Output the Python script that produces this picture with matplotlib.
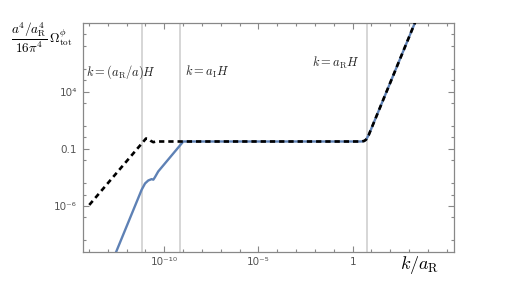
import numpy as np
import matplotlib
matplotlib.use("Agg")
import matplotlib.pyplot as plt

plt.rcParams['mathtext.fontset'] = 'cm'

# --- data (log10 of k/a_R and of the spectrum) ---
blue_logk = [-12.6, -11.2, -11.02, -10.85, -10.67, -10.58, -10.49, -10.32, -8.99,
             0.45, 0.6, 0.71, 0.85, 1.0, 1.62, 3.45]
blue_logy = [-10.2, -4.58, -4.03, -3.77, -3.65, -3.70, -3.47, -2.98, -0.36,
             -0.36, -0.32, -0.2, 0.2, 0.8, 3.28, 10.6]

black_logk = [-13.98, -10.97, -10.85, -10.72, -10.58, -10.45, 0.45, 0.6, 0.71,
              0.85, 1.0, 1.62, 3.45]
black_logy = [-5.91, -0.10, -0.12, -0.30, -0.42, -0.36, -0.36, -0.32, -0.2,
              0.2, 0.8, 3.28, 10.6]

vlines_logk = [-11.17, -9.17, 0.78]
vline_labels = [r'$k=(a_{\rm R}/a)H$', r'$k=a_{\rm I}H$', r'$k=a_{\rm R}H$']
vline_label_x = [0.010, 0.276, 0.618]
vline_label_y = [0.785, 0.785, 0.825]

xmajor = [-10, -5, 0]
xmajor_labels = ['10⁻¹⁰', '10⁻⁵', '1']
ymajor = [-6, -1, 4]
ymajor_labels = ['10⁻⁶', '0.1', '10⁴']
yminor = [-9, -7, -5, -4, -2, 0, 1, 3, 5, 6, 8, 9]

fig = plt.figure(figsize=(5.12, 2.88), dpi=100)
ax = fig.add_axes([0.1615, 0.126, 0.7245, 0.794])

for v in vlines_logk:
    ax.axvline(10.0**v, color='#cccccc', lw=1.1, zorder=1)

ax.plot(10.0**np.array(blue_logk), 10.0**np.array(blue_logy),
        color='#5e81b5', lw=1.7, zorder=2, solid_capstyle='butt')
ax.plot(10.0**np.array(black_logk), 10.0**np.array(black_logy),
        color='black', lw=1.9, ls=(0, (2.0, 1.5)), zorder=3)

ax.set_xscale('log')
ax.set_yscale('log')
ax.set_xlim(10**-14.33, 10**5.36)
ax.set_ylim(1e-10, 1e10)

ax.set_xticks([10.0**v for v in xmajor])
ax.set_xticklabels(xmajor_labels)
ax.set_xticks([10.0**v for v in range(-14, 6) if v not in xmajor], minor=True)
ax.set_yticks([10.0**v for v in ymajor])
ax.set_yticklabels(ymajor_labels)
ax.set_yticks([10.0**v for v in yminor], minor=True)
ax.xaxis.set_minor_formatter(matplotlib.ticker.NullFormatter())
ax.yaxis.set_minor_formatter(matplotlib.ticker.NullFormatter())

ax.tick_params(which='both', direction='in', top=True, right=True,
               color='#888888', width=0.8, labelsize=7.5, labelcolor='#555555')
ax.tick_params(which='major', length=4, pad=4)
ax.tick_params(which='minor', length=2.5)
for s in ax.spines.values():
    s.set_color('#888888')
    s.set_linewidth(0.9)

for lab, xp, yp in zip(vline_labels, vline_label_x, vline_label_y):
    ax.text(xp, yp, lab, transform=ax.transAxes, fontsize=9,
            ha='left', va='center', color='#222222')

fig.text(0.820, 0.080, r'$k/a_{\rm R}$', fontsize=13, ha='center', va='center')
fig.text(0.082, 0.870, r'$\dfrac{a^4/a_{\rm R}^4}{16\pi^4}\,\Omega^{\phi}_{\rm tot}$',
         fontsize=9.5, ha='center', va='center')

fig.savefig('out.png', dpi=100)
